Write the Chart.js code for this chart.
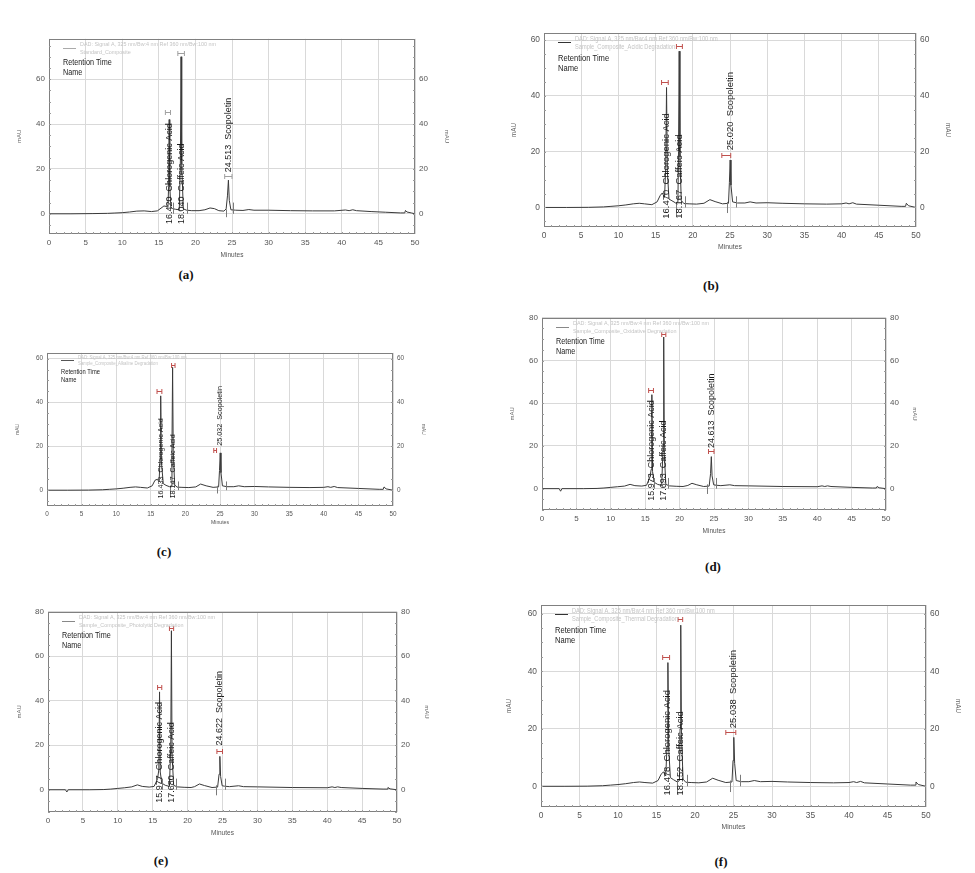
<!DOCTYPE html>
<html>
<head>
<meta charset="utf-8">
<script src="https://cdn.jsdelivr.net/npm/chart.js@4.4.0/dist/chart.umd.min.js"></script>
<style>
html, body { margin: 0; padding: 0; background: #fff; }
#page { position: relative; width: 975px; height: 873px; overflow: hidden; }
#page canvas { position: absolute; }
.cap { position: absolute; font: bold 13px "Liberation Serif", "DejaVu Serif", serif; color: #111; transform: translate(-50%, -50%); }
</style>
</head>
<body>
<div id="page"></div>
<script>
// HPLC chromatograms, six panels (a)-(f)

var xTicks = [0, 5, 10, 15, 20, 25, 30, 35, 40, 45, 50];
var ticks60 = [0, 20, 40, 60];
var ticks80 = [0, 20, 40, 60, 80];

var peakNames = ['Chlorogenic Acid', 'Caffeic Acid', 'Scopoletin'];
var signalText = 'DAD: Signal A, 325 nm/Bw:4 nm Ref 360 nm/Bw:100 nm';
var sampleNames = [
    'Standard_Composite',
    'Sample_Composite_Acidic Degradation',
    'Sample_Composite_Alkaline Degradation',
    'Sample_Composite_Oxidative Degradation',
    'Sample_Composite_Photolytic Degradation',
    'Sample_Composite_Thermal Degradation'
];

// (a) standard
var aTime = [0, 3, 6, 8, 9, 10, 11, 12, 13, 14, 14.8, 15.3, 15.7, 16.0, 16.25, 16.34, 16.42, 16.5, 16.65, 16.9, 17.3, 17.8, 17.95, 18.04, 18.13, 18.35, 18.8, 19.5, 20.5, 21.3, 22.0, 22.6, 23.2, 23.9, 24.2, 24.38, 24.51, 24.63, 24.85, 25.5, 26.5, 27.3, 28.0, 30, 33, 36, 39, 40.5, 41.0, 41.5, 42.0, 44, 46, 48, 48.6, 48.7, 48.9, 49.5, 50];
var aMau = [0, 0, 0.1, 0.2, 0.35, 0.5, 0.8, 1.2, 1.3, 1.0, 1.3, 2.5, 3.5, 3.3, 3.0, 12, 42, 12, 3.0, 2.3, 2.0, 1.8, 24, 70, 22, 2.2, 1.6, 1.4, 1.4, 1.8, 2.6, 2.3, 1.4, 1.2, 2.2, 8, 15, 6, 1.8, 1.6, 1.5, 1.9, 1.6, 1.6, 1.4, 1.3, 1.3, 1.7, 1.4, 1.8, 1.4, 1.0, 0.7, 0.4, 0.4, 1.5, 0.8, 0.4, 0];
var aRet = ['16.420', '18.040', '24.513'];

// (b) acidic
var bTime = [0, 3, 6, 8, 9, 10, 11, 12, 12.8, 13.5, 14.5, 15.2, 15.6, 15.9, 16.2, 16.36, 16.47, 16.58, 16.8, 17.2, 17.7, 18.0, 18.08, 18.17, 18.27, 18.45, 18.8, 19.5, 20.5, 21.5, 22.3, 23.0, 24.0, 24.8, 24.92, 25.02, 25.13, 25.35, 26.0, 27.0, 27.7, 28.5, 30, 32, 35, 38, 40, 40.6, 41.0, 41.5, 42.0, 45, 48, 48.6, 48.7, 49.0, 50];
var bMau = [0, 0, 0.05, 0.2, 0.4, 0.6, 0.9, 1.3, 1.5, 1.3, 1.0, 2.0, 4.2, 5.2, 3.6, 14, 43, 13, 3.0, 2.4, 1.6, 2.0, 20, 56, 18, 2.5, 1.4, 1.3, 1.2, 1.5, 2.8, 2.1, 1.3, 1.5, 9, 17, 8, 2.0, 1.6, 1.6, 2.0, 1.6, 1.7, 1.5, 1.3, 1.2, 1.3, 1.6, 1.3, 1.7, 1.2, 0.8, 0.4, 0.4, 1.5, 0.6, 0];
var bRet = ['16.470', '18.167', '25.020'];

// (c) alkaline
var cTime = [0, 3, 6, 8, 9, 10, 11, 12, 12.8, 13.5, 14.5, 15.2, 15.6, 15.95, 16.2, 16.33, 16.43, 16.53, 16.8, 17.2, 17.7, 17.98, 18.06, 18.15, 18.24, 18.45, 18.8, 19.5, 20.5, 21.5, 22.2, 23.0, 24.0, 24.8, 24.93, 25.03, 25.14, 25.35, 26.0, 27.0, 27.7, 28.5, 30, 32, 35, 38, 40, 40.6, 41.0, 41.5, 42.0, 45, 48, 48.6, 48.7, 49.0, 50];
var cMau = [0, 0, 0.05, 0.2, 0.4, 0.6, 0.9, 1.3, 1.5, 1.3, 1.0, 2.0, 4.5, 5.0, 3.8, 14, 43, 13, 3.0, 2.2, 1.6, 2.0, 20, 56, 18, 2.4, 1.4, 1.3, 1.2, 1.5, 2.8, 2.0, 1.3, 1.5, 9, 17, 8, 2.0, 1.6, 1.6, 2.0, 1.6, 1.7, 1.5, 1.3, 1.2, 1.3, 1.6, 1.3, 1.7, 1.2, 0.8, 0.4, 0.4, 1.5, 0.6, 0];
var cRet = ['16.433', '18.147', '25.032'];

// (d) oxidative
var dTime = [0, 2.5, 2.7, 2.9, 6, 8, 9, 10, 11, 12, 12.8, 13.5, 14.5, 15.2, 15.5, 15.7, 15.87, 15.97, 16.07, 16.3, 16.8, 17.4, 17.6, 17.69, 17.78, 18.0, 18.5, 19.5, 20.5, 21.2, 21.8, 22.5, 23.5, 24.3, 24.5, 24.61, 24.72, 24.95, 25.3, 26.0, 27.3, 28.0, 30, 35, 40, 40.7, 41.1, 41.5, 42, 45, 48, 48.6, 48.7, 49.0, 50];
var dMau = [0, 0, -1.2, 0, 0, 0.1, 0.3, 0.6, 0.9, 1.2, 2.0, 1.4, 1.2, 1.6, 4.0, 5.5, 9, 44, 8, 3.0, 2.0, 1.5, 20, 71, 16, 2.0, 1.3, 1.1, 1.0, 1.5, 2.5, 1.8, 1.0, 1.2, 7, 15, 6, 1.8, 1.6, 1.4, 1.8, 1.4, 1.3, 1.0, 0.9, 1.3, 1.0, 1.3, 1.0, 0.6, 0.3, 0.3, 1.0, 0.4, 0];
var dRet = ['15.973', '17.693', '24.613'];

// (e) photolytic
var eTime = [0, 2.5, 2.7, 2.9, 6, 8, 9, 10, 11, 12, 12.8, 13.5, 14.5, 15.2, 15.5, 15.7, 15.88, 15.98, 16.08, 16.3, 16.8, 17.4, 17.59, 17.68, 17.77, 18.0, 18.5, 19.5, 20.5, 21.0, 21.7, 22.4, 23.5, 24.3, 24.51, 24.62, 24.73, 24.95, 25.3, 26.0, 27.3, 28.0, 30, 35, 40, 40.7, 41.1, 41.5, 42, 45, 48, 48.6, 48.7, 49.0, 50];
var eMau = [0, 0, -1.0, 0, 0, 0.1, 0.3, 0.6, 0.9, 1.3, 2.2, 1.5, 1.2, 1.5, 3.5, 5.0, 9, 44, 8, 3.0, 2.0, 1.5, 20, 71.5, 16, 2.0, 1.3, 1.1, 1.0, 1.4, 2.6, 1.9, 1.0, 1.2, 7, 15, 6, 1.8, 1.6, 1.4, 1.8, 1.4, 1.3, 1.0, 0.9, 1.3, 1.0, 1.3, 1.0, 0.6, 0.3, 0.3, 1.0, 0.4, 0];
var eRet = ['15.977', '17.680', '24.622'];

// (f) thermal
var fTime = [0, 3, 6, 8, 9, 10, 11, 12, 12.8, 13.5, 14.5, 15.2, 15.6, 15.9, 16.2, 16.37, 16.48, 16.59, 16.8, 17.2, 17.7, 17.98, 18.06, 18.15, 18.24, 18.45, 18.8, 19.5, 20.5, 21.5, 22.3, 23.0, 24.0, 24.8, 24.94, 25.04, 25.15, 25.35, 26.0, 27.0, 27.7, 28.5, 30, 32, 35, 38, 40, 40.6, 41.0, 41.5, 42.0, 45, 48, 48.6, 48.7, 49.0, 50];
var fMau = [0, 0, 0.05, 0.2, 0.4, 0.6, 0.9, 1.3, 1.5, 1.3, 1.1, 2.0, 4.2, 5.0, 3.6, 14, 43, 13, 3.0, 2.3, 1.5, 2.0, 20, 56, 18, 2.5, 1.4, 1.3, 1.2, 1.5, 2.8, 2.1, 1.3, 1.5, 9, 17, 8, 2.0, 1.6, 1.6, 2.0, 1.6, 1.7, 1.5, 1.3, 1.2, 1.3, 1.6, 1.3, 1.7, 1.2, 0.8, 0.4, 0.4, 1.5, 0.6, 0];
var fRet = ['16.478', '18.152', '25.038'];

var FONT = '"Liberation Sans", Arial, sans-serif';

// where each panel sits on the page (plot box in page pixels) + its marks
var panels = [
    { cap: '(a)', time: aTime, mau: aMau, ret: aRet, sample: sampleNames[0], yMin: -9, yMax: 78, yTicks: ticks60,
      box: { l: 49, r: 415, t: 36, b: 234 }, tl: 20, tr: 446, tm: 255, capXY: [186, 275], fs: 1,
      bracketColor: '#a0a0a0', legendLine: '#aaa',
      brackets: [[15.9, 16.6, 45.5], [17.6, 18.5, 71.6], [24.0, 25.0, 17]],
      labelBase: [-4.5, -4.5, 18.5],
      marks: [[16.9, 0, 5], [18.8, 0, 5], [24.2, -1.5, 2], [25.1, 0, 5]] },
    { cap: '(b)', time: bTime, mau: bMau, ret: bRet, sample: sampleNames[1], yMin: -7, yMax: 62.5, yTicks: ticks60,
      box: { l: 544, r: 916, t: 30, b: 227 }, tl: 514, tr: 948, tm: 247, capXY: [711, 286], fs: 1.05,
      bracketColor: '#c0504d', legendLine: '#333',
      brackets: [[15.8, 16.7, 44.8], [17.8, 18.6, 57.9], [23.9, 25.1, 18.8]],
      labelBase: [-4, -4, 20.5],
      marks: [[17.8, -3, 2], [18.9, 0, 4], [24.6, -2, 2], [25.8, 0, 4]] },
    { cap: '(c)', time: cTime, mau: cMau, ret: cRet, sample: sampleNames[2], yMin: -7.2, yMax: 62.6, yTicks: ticks60,
      box: { l: 47, r: 393, t: 351, b: 506 }, tl: 19, tr: 422, tm: 522, capXY: [164, 552], fs: 0.8,
      bracketColor: '#c0504d', legendLine: '#555',
      brackets: [[15.9, 16.6, 45], [18.0, 18.5, 57], [24.1, 24.5, 18.5]],
      labelBase: [-3.8, -3.8, 20.3],
      marks: [[17.8, -3, 2], [18.9, 0, 4], [24.5, -1.5, 2], [25.8, 0, 4]] },
    { cap: '(d)', time: dTime, mau: dMau, ret: dRet, sample: sampleNames[3], yMin: -10, yMax: 80, yTicks: ticks80,
      box: { l: 542, r: 886, t: 315, b: 510 }, tl: 513, tr: 914, tm: 531, capXY: [713, 567], fs: 1,
      bracketColor: '#c0504d', legendLine: '#888',
      brackets: [[15.5, 16.2, 46], [17.4, 18.0, 72.5], [24.2, 25.0, 17.5]],
      labelBase: [-5.7, -5.7, 19],
      marks: [[16.3, 0, 5], [18.3, 0, 5], [24.0, -2.5, 2], [25.3, 0, 5]] },
    { cap: '(e)', time: eTime, mau: eMau, ret: eRet, sample: sampleNames[4], yMin: -10, yMax: 80, yTicks: ticks80,
      box: { l: 48, r: 397, t: 609, b: 812 }, tl: 20, tr: 426, tm: 833, capXY: [161, 861], fs: 1,
      bracketColor: '#c0504d', legendLine: '#888',
      brackets: [[15.7, 16.3, 46], [17.4, 18.0, 72.5], [24.2, 25.0, 17.5]],
      labelBase: [-5.8, -5.8, 19.9],
      marks: [[16.3, 0, 5], [18.3, 0, 5], [24.0, -2.5, 2], [25.3, 0, 5]] },
    { cap: '(f)', time: fTime, mau: fMau, ret: fRet, sample: sampleNames[5], yMin: -7.2, yMax: 63, yTicks: ticks60,
      box: { l: 541, r: 926, t: 602, b: 807 }, tl: 509, tr: 958, tm: 827, capXY: [721, 862], fs: 1.05,
      bracketColor: '#c0504d', legendLine: '#333',
      brackets: [[15.8, 16.7, 45], [17.8, 18.4, 58], [24.0, 25.3, 18.8]],
      labelBase: [-3.2, -3.2, 20.2],
      marks: [[17.7, -3, 2], [19.0, 0, 4], [24.6, -2, 2], [25.8, 0, 4]] }
];

function condensed(ctx, text, x, y, k) {
    ctx.fillText(text, x, y, ctx.measureText(text).width * k);
}

var chromPlugin = {
    id: 'chrom',
    afterDraw: function (chart) {
        var p = chart.options.plugins.chrom.panel;
        var ctx = chart.ctx, ca = chart.chartArea;
        var xs = chart.scales.x, ys = chart.scales.y;
        var px = function (v) { return xs.getPixelForValue(v); };
        var py = function (v) { return ys.getPixelForValue(v); };
        var fs = p.fs;

        ctx.save();
        // plot frame
        ctx.strokeStyle = '#808080';
        ctx.lineWidth = 1;
        ctx.strokeRect(Math.round(ca.left) + 0.5, Math.round(ca.top) + 0.5,
            Math.round(ca.right - ca.left) - 1, Math.round(ca.bottom - ca.top) - 1);

        // minor ticks
        ctx.strokeStyle = '#9a9a9a';
        ctx.beginPath();
        for (var t = 1; t < 50; t++) {
            var X = Math.round(px(t)) + 0.5;
            ctx.moveTo(X, ca.bottom);
            ctx.lineTo(X, ca.bottom - 2);
        }
        for (var v = Math.ceil(p.yMin / 5) * 5; v < p.yMax; v += 5) {
            var Y = Math.round(py(v)) + 0.5;
            ctx.moveTo(ca.left, Y); ctx.lineTo(ca.left + 2, Y);
            ctx.moveTo(ca.right, Y); ctx.lineTo(ca.right - 2, Y);
        }
        ctx.stroke();

        // integration marks
        ctx.strokeStyle = '#7a7a7a';
        ctx.beginPath();
        p.marks.forEach(function (m) {
            var X = Math.round(px(m[0])) + 0.5;
            ctx.moveTo(X, py(m[1]));
            ctx.lineTo(X, py(m[2]));
        });
        ctx.stroke();

        // retention window brackets
        ctx.strokeStyle = p.bracketColor;
        ctx.beginPath();
        p.brackets.forEach(function (b) {
            var x1 = px(b[0]), x2 = px(b[1]), Y = Math.round(py(b[2])) + 0.5;
            ctx.moveTo(x1, Y); ctx.lineTo(x2, Y);
            ctx.moveTo(x1, Y - 2.5); ctx.lineTo(x1, Y + 2.5);
            ctx.moveTo(x2, Y - 2.5); ctx.lineTo(x2, Y + 2.5);
        });
        ctx.stroke();

        // peak labels
        ctx.fillStyle = '#1a1a1a';
        ctx.textBaseline = 'middle';
        ctx.textAlign = 'left';
        ctx.font = (9 * fs) + 'px ' + FONT;
        p.ret.forEach(function (r, i) {
            ctx.save();
            ctx.translate(px(parseFloat(r)), py(p.labelBase[i]));
            ctx.rotate(-Math.PI / 2);
            ctx.fillText(r + '  ' + peakNames[i], 0, 0);
            ctx.restore();
        });

        // legend block
        var L = ca.left, T = ca.top;
        ctx.strokeStyle = p.legendLine;
        ctx.beginPath();
        ctx.moveTo(L + 14, Math.round(T + 9 * fs) + 0.5);
        ctx.lineTo(L + 27, Math.round(T + 9 * fs) + 0.5);
        ctx.stroke();
        ctx.fillStyle = '#c4c4c4';
        ctx.font = (6 * fs) + 'px ' + FONT;
        condensed(ctx, signalText, L + 31, T + 6 * fs, 0.9);
        condensed(ctx, p.sample, L + 31, T + 14 * fs, 0.9);
        ctx.fillStyle = '#222';
        ctx.font = (9.5 * fs) + 'px ' + FONT;
        condensed(ctx, 'Retention Time', L + 14, T + 24 * fs, 0.76);
        condensed(ctx, 'Name', L + 14, T + 34 * fs, 0.76);
        ctx.restore();
    }
};

function yScale(p, pos, w) {
    return {
        type: 'linear',
        position: pos,
        min: p.yMin,
        max: p.yMax,
        afterBuildTicks: function (s) { s.ticks = p.yTicks.map(function (v) { return { value: v }; }); },
        afterFit: function (s) { s.width = w; },
        grid: { display: pos === 'left', color: '#d9d9d9', drawTicks: false },
        border: { display: false },
        ticks: { font: { size: 8 * p.fs, family: FONT }, color: '#555', padding: 4 },
        title: { display: true, text: 'mAU', font: { size: 6 * p.fs, family: FONT }, color: '#666', padding: 0 }
    };
}

var page = document.getElementById('page');

panels.forEach(function (p) {
    var lw = p.box.l - p.tl + 4;
    var rw = p.tr - p.box.r + 4;
    var bh = p.tm - p.box.b + 4;
    var padTop = 6;
    var cw = lw + (p.box.r - p.box.l) + rw;
    var ch = padTop + (p.box.b - p.box.t) + bh;

    var canvas = document.createElement('canvas');
    canvas.width = cw;
    canvas.height = ch;
    canvas.style.width = cw + 'px';
    canvas.style.height = ch + 'px';
    canvas.style.left = (p.box.l - lw) + 'px';
    canvas.style.top = (p.box.t - padTop) + 'px';
    page.appendChild(canvas);

    var cap = document.createElement('div');
    cap.className = 'cap';
    cap.textContent = p.cap;
    cap.style.left = p.capXY[0] + 'px';
    cap.style.top = p.capXY[1] + 'px';
    page.appendChild(cap);

    var points = p.time.map(function (t, i) { return { x: t, y: p.mau[i] }; });

    new Chart(canvas.getContext('2d'), {
        type: 'line',
        data: {
            datasets: [{
                data: points,
                borderColor: '#3a3a3a',
                borderWidth: 1,
                pointRadius: 0,
                tension: 0,
                fill: false,
                yAxisID: 'y'
            }]
        },
        options: {
            responsive: false,
            animation: false,
            devicePixelRatio: 1,
            layout: { padding: { top: padTop, left: 0, right: 0, bottom: 0 } },
            plugins: { legend: { display: false }, tooltip: { enabled: false }, chrom: { panel: p } },
            scales: {
                x: {
                    type: 'linear',
                    min: 0,
                    max: 50,
                    afterBuildTicks: function (s) { s.ticks = xTicks.map(function (v) { return { value: v }; }); },
                    afterFit: function (s) { s.height = bh; },
                    grid: { color: '#d9d9d9', drawTicks: false },
                    border: { display: false },
                    ticks: { font: { size: 8 * p.fs, family: FONT }, color: '#555', padding: 4, maxRotation: 0, autoSkip: false },
                    title: { display: true, text: 'Minutes', font: { size: 6.5 * p.fs, family: FONT }, color: '#555', padding: 0 }
                },
                y: yScale(p, 'left', lw),
                y2: yScale(p, 'right', rw)
            }
        },
        plugins: [chromPlugin]
    });
});
</script>
</body>
</html>
